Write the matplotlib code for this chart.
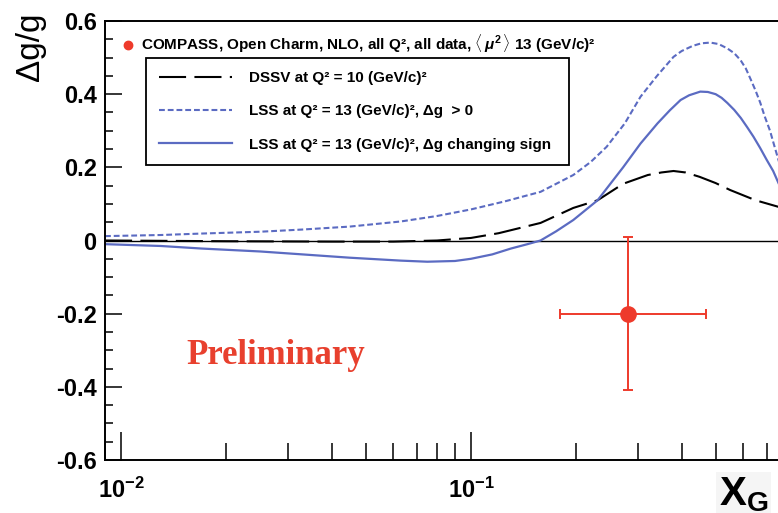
import numpy as np
import matplotlib.pyplot as plt
from matplotlib.ticker import LogLocator, MultipleLocator, NullFormatter

plt.rcParams['font.family'] = ['Liberation Sans', 'DejaVu Sans']
plt.rcParams['font.weight'] = 'bold'
plt.rcParams['mathtext.fontset'] = 'custom'
plt.rcParams['mathtext.rm'] = 'Liberation Sans:bold'
plt.rcParams['mathtext.bf'] = 'Liberation Sans:bold'
plt.rcParams['mathtext.it'] = 'Liberation Sans:bold:italic'
plt.rcParams['axes.unicode_minus'] = False

# LSS, positive gluon polarisation
x_lss_pos = [0.009, 0.013, 0.017, 0.025, 0.033, 0.045, 0.063, 0.08, 0.1, 0.125,
             0.158, 0.196, 0.22, 0.244, 0.275, 0.305, 0.34, 0.379, 0.40, 0.43,
             0.455, 0.483, 0.51, 0.54, 0.565, 0.589, 0.61, 0.63, 0.65, 0.671,
             0.69, 0.715, 0.735, 0.756, 0.8]
y_lss_pos = [0.012, 0.015, 0.019, 0.024, 0.030, 0.038, 0.052, 0.067, 0.085, 0.107,
             0.133, 0.179, 0.215, 0.256, 0.320, 0.393, 0.450, 0.502, 0.518, 0.532,
             0.539, 0.541, 0.537, 0.525, 0.512, 0.493, 0.470, 0.440, 0.410, 0.376,
             0.340, 0.300, 0.260, 0.220, 0.140]

# LSS, sign-changing gluon polarisation
x_lss_sign = [0.009, 0.013, 0.017, 0.025, 0.033, 0.045, 0.063, 0.075, 0.09, 0.1,
              0.115, 0.13, 0.145, 0.158, 0.175, 0.196, 0.23, 0.272, 0.305, 0.341,
              0.37, 0.397, 0.42, 0.452, 0.475, 0.5, 0.52, 0.54, 0.565, 0.59,
              0.615, 0.641, 0.67, 0.7, 0.73, 0.756, 0.8]
y_lss_sign = [-0.010, -0.015, -0.022, -0.030, -0.038, -0.047, -0.055, -0.058, -0.056, -0.050,
              -0.038, -0.022, -0.010, 0.0, 0.025, 0.056, 0.110, 0.200, 0.265, 0.320,
              0.356, 0.384, 0.397, 0.407, 0.406, 0.400, 0.390, 0.376, 0.357, 0.335,
              0.310, 0.284, 0.253, 0.220, 0.190, 0.157, 0.110]

# DSSV
x_dssv = [0.009, 0.02, 0.04, 0.06, 0.08, 0.1, 0.12, 0.158, 0.196, 0.23,
          0.272, 0.32, 0.35, 0.379, 0.41, 0.45, 0.5, 0.55, 0.65, 0.756, 0.8]
y_dssv = [0.0, -0.002, -0.003, -0.003, 0.0, 0.007, 0.020, 0.048, 0.089, 0.110,
          0.155, 0.179, 0.186, 0.190, 0.186, 0.174, 0.157, 0.138, 0.110, 0.092, 0.088]

# COMPASS open charm point
x_point = [0.28]
y_point = [-0.20]
xerr_lo = [0.10]
xerr_hi = [0.19]
yerr = [0.21]

yticks = [-0.6, -0.4, -0.2, 0.0, 0.2, 0.4, 0.6]
ytick_labels = ['-0.6', '-0.4', '-0.2', '0', '0.2', '0.4', '0.6']
xticks = [0.01, 0.1]
xtick_labels = [r'$10^{-2}$', r'$10^{-1}$']

blue = '#5b6bc2'
red = '#ee3a2b'

fig = plt.figure(figsize=(7.78, 5.13), dpi=100)
ax = fig.add_axes([105/778, 1 - 460/513, 716/778, 439/513])

ax.axhline(0, color='black', lw=1.0, zorder=1)

l_dssv, = ax.plot(x_dssv, y_dssv, color='black', lw=1.5, dashes=(13, 4))
l_pos, = ax.plot(x_lss_pos, y_lss_pos, color=blue, lw=1.5, dashes=(2.8, 1.4))
l_sign, = ax.plot(x_lss_sign, y_lss_sign, color=blue, lw=1.6)

eb = ax.errorbar(x_point, y_point, xerr=[xerr_lo, xerr_hi], yerr=yerr,
                 fmt='o', color=red, ms=11, elinewidth=1.4, capsize=3.5,
                 capthick=1.4, zorder=5)

ax.set_xscale('log')
ax.set_xlim(0.009, 1.0)
ax.set_ylim(-0.6, 0.6)

ax.set_yticks(yticks)
ax.set_yticklabels(ytick_labels)
ax.yaxis.set_minor_locator(MultipleLocator(0.05))
ax.set_xticks(xticks)
ax.set_xticklabels(xtick_labels)
ax.xaxis.set_minor_locator(LogLocator(base=10, subs=np.arange(2, 10)))
ax.xaxis.set_minor_formatter(NullFormatter())

ax.tick_params(which='both', direction='in', top=False, right=False, width=1.1)
ax.tick_params(axis='y', which='major', length=12, labelsize=17, pad=6)
ax.tick_params(axis='y', which='minor', length=6)
ax.tick_params(axis='x', which='major', length=20, labelsize=17, pad=13)
ax.tick_params(axis='x', which='minor', length=12)
for s in ax.spines.values():
    s.set_linewidth(1.4)

ax.set_ylabel('Δg/g', fontsize=24, loc='top')
ax.yaxis.set_label_coords(-0.082, 1.02)

fig.text(719/778, 1 - 505/513, r'$\mathrm{X}_\mathrm{G}$', fontsize=29,
         ha='left', va='baseline',
         bbox=dict(facecolor='#f5f5f5', edgecolor='none', pad=2))

ax.text(0.239, 0.239, 'Preliminary', transform=ax.transAxes, ha='center',
        va='center', family='Liberation Serif', weight='bold', fontsize=25,
        color='#e8402e')

leg1 = ax.legend(handles=[eb.lines[0]],
                 labels=['COMPASS, Open Charm, NLO, all Q², all data, '
                         r'$\langle\,\mu^2\,\rangle$ 13 (GeV/c)²'],
                 loc='upper left', bbox_to_anchor=(0.021, 0.973),
                 borderaxespad=0, borderpad=0, frameon=False, fontsize=11,
                 handlelength=1.0, handletextpad=0.4, markerscale=0.55)
ax.add_artist(leg1)

leg2 = ax.legend(handles=[l_dssv, l_pos, l_sign],
                 labels=['DSSV at Q² = 10 (GeV/c)²',
                         'LSS at Q² = 13 (GeV/c)², Δg  > 0',
                         'LSS at Q² = 13 (GeV/c)², Δg changing sign'],
                 loc='upper left', bbox_to_anchor=(0.0573, 0.6446, 0.5908, 0.2711),
                 mode='expand', borderaxespad=0, fontsize=11, handlelength=4.8,
                 handletextpad=1.1, labelspacing=1.27, borderpad=0.85,
                 fancybox=False, edgecolor='black', framealpha=1)
leg2.get_frame().set_linewidth(1.3)

fig.savefig('out.png', dpi=100)
